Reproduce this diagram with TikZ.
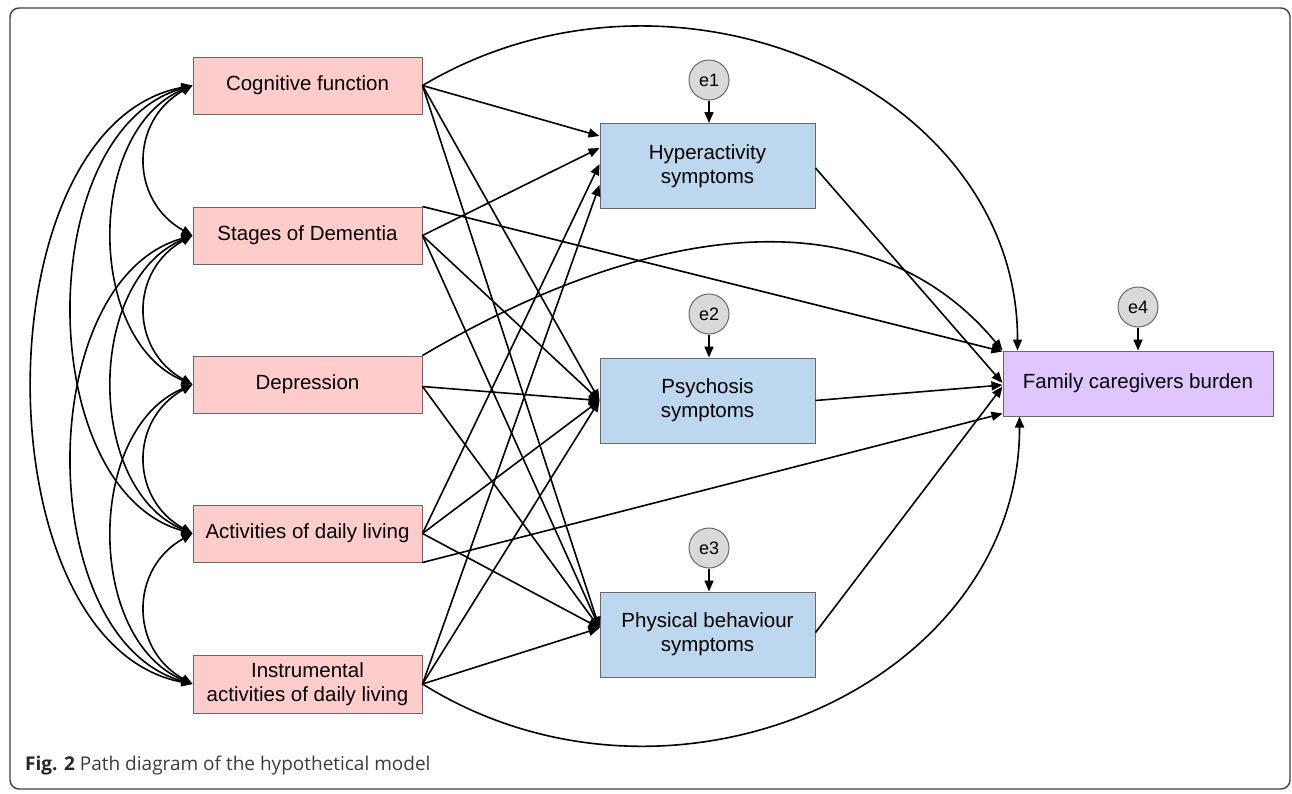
\documentclass[tikz,border=0pt]{standalone}
\usepackage{fontspec}
\setmainfont{Liberation Sans}
\newfontfamily\capfont{Open Sans}
\usetikzlibrary{arrows.meta,calc}

\definecolor{pinkfill}{RGB}{255,204,204}
\definecolor{bluefill}{RGB}{189,215,238}
\definecolor{purplefill}{RGB}{224,198,255}
\definecolor{boxline}{RGB}{105,105,105}
\definecolor{efill}{RGB}{217,217,217}
\definecolor{captext}{RGB}{60,60,60}

\begin{document}
\begin{tikzpicture}[x=1pt,y=-1pt,
  box/.style={draw=boxline, line width=1pt, font=\fontsize{20.5}{24}\selectfont, align=center, inner sep=0pt},
  exo/.style={box, fill=pinkfill, minimum width=229pt, minimum height=57pt},
  med/.style={box, fill=bluefill, minimum width=215pt, minimum height=85pt},
  dv/.style={box, fill=purplefill, minimum width=270pt, minimum height=65pt},
  err/.style={circle, draw=boxline, fill=efill, line width=1pt, minimum size=40pt, inner sep=0pt, font=\fontsize{18}{20}\selectfont},
  tip/.tip={Triangle[length=11pt,width=9pt]},
  arr/.style={-tip, line width=1.6pt},
  cov/.style={tip-tip, line width=1.6pt},
]
\useasboundingbox (0,0) rectangle (1292,793);
\fill[white] (0,0) rectangle (1292,793);
\draw[rounded corners=9pt, line width=1.4pt, draw=black!75] (10,8) rectangle (1290,789);

% exogenous
\node[exo] (cf)   at (307.5,85.5)  {Cognitive function};
\node[exo] (sd)   at (307.5,235.5) {Stages of Dementia};
\node[exo] (dep)  at (307.5,384.5) {Depression};
\node[exo] (adl)  at (307.5,533.5) {Activities of daily living};
\node[exo, minimum height=58pt] (iadl) at (307.5,684) {Instrumental\\activities of daily living};

% mediators
\node[med] (hyp) at (707.5,166)   {Hyperactivity\\symptoms};
\node[med] (psy) at (707.5,400.5) {Psychosis\\symptoms};
\node[med] (phy) at (707.5,634.5) {Physical behaviour\\symptoms};

% outcome
\node[dv] (fcb) at (1138,383.5) {Family caregivers burden};

% errors
\node[err] (e1) at (709,80)  {e1};
\node[err] (e2) at (709,314) {e2};
\node[err] (e3) at (709,548) {e3};
\node[err] (e4) at (1138,307) {e4};

\draw[arr] (e1) -- (e1 |- hyp.north);
\draw[arr] (e2) -- (e2 |- psy.north);
\draw[arr] (e3) -- (e3 |- phy.north);
\draw[arr] (e4) -- (e4 |- fcb.north);

% covariances
\draw[cov] (cf.west) .. controls +(-63,35) and +(-63,-35) .. (sd.west);
\draw[cov] (sd.west) .. controls +(-63,35) and +(-63,-35) .. (dep.west);
\draw[cov] (dep.west) .. controls +(-63,35) and +(-63,-35) .. (adl.west);
\draw[cov] (adl.west) .. controls +(-63,35) and +(-63,-35) .. (iadl.west);
\draw[cov] (cf.west) .. controls +(-107,45) and +(-107,-45) .. (dep.west);
\draw[cov] (sd.west) .. controls +(-107,45) and +(-107,-45) .. (adl.west);
\draw[cov] (dep.west) .. controls +(-107,45) and +(-107,-45) .. (iadl.west);
\draw[cov] (cf.west) .. controls +(-160,45) and +(-160,-45) .. (adl.west);
\draw[cov] (sd.west) .. controls +(-160,45) and +(-160,-45) .. (iadl.west);
\draw[cov] (cf.west) .. controls +(-213,40) and +(-213,-40) .. (iadl.west);

% to hyperactivity
\draw[arr] (cf.east)  -- ($(hyp.north west)+(0,13)$);
\draw[arr] (sd.east)  -- ($(hyp.north west)+(0,25)$);
\draw[arr] (adl.east) -- ($(hyp.north west)+(0,41)$);
\draw[arr] (iadl.east) -- ($(hyp.north west)+(0,62)$);

% to psychosis
\draw[arr] (cf.east)  -- (psy.west);
\draw[arr] (sd.east)  -- (psy.west);
\draw[arr] ($(dep.east)+(0,2)$) -- (psy.west);
\draw[arr] (adl.east) -- (psy.west);
\draw[arr] (iadl.east) -- (psy.west);

% to physical behaviour
\coordinate (phyin) at ($(phy.west)+(0,-6.5)$);
\draw[arr] (cf.east)  -- (phyin);
\draw[arr] (sd.east)  -- (phyin);
\draw[arr] ($(dep.east)+(0,2)$) -- (phyin);
\draw[arr] (adl.east) -- (phyin);
\draw[arr] (iadl.east) -- (phyin);

% to family caregivers burden
\draw[arr] (cf.east) .. controls (676,-65) and (1018,88) .. ($(fcb.north west)+(15,0)$);
\draw[arr] (sd.north east) -- ($(fcb.north west)+(0,1)$);
\draw[arr] (dep.north east) .. controls (635,230) and (865,185) .. (fcb.north west);
\draw[arr] (adl.south east) -- ($(fcb.south west)+(0,-3)$);
\draw[arr] (iadl.east) .. controls (672,840) and (1020,684) .. ($(fcb.south west)+(17,0)$);
\draw[arr] ($(hyp.east)+(0,2)$) -- ($(fcb.west)+(0,-0.5)$);
\draw[arr] (psy.east) -- ($(fcb.west)+(0,1.5)$);
\draw[arr] ($(phy.east)+(0,-2)$) -- ($(fcb.west)+(0,3)$);

% caption
\node[anchor=base west, inner sep=0pt, font=\capfont\fontsize{19}{22}\selectfont, text=captext] (cap) at (25,770)
  {\textbf{\color{black!85}Fig. 2} Path diagram of the hypothetical model};
\end{tikzpicture}
\end{document}
